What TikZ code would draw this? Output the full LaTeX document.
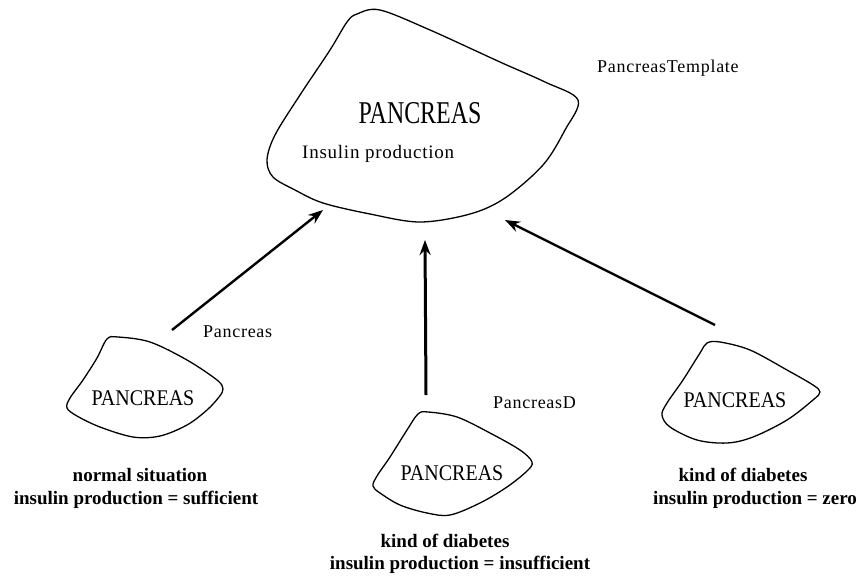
\documentclass[tikz,border=0pt]{standalone}
\usepackage{fontspec}
\usepackage{graphicx}
\setmainfont{Liberation Serif}
\usetikzlibrary{arrows.meta}

\tikzset{
  blob/.style={draw=black, line width=1.3pt, line join=round},
  link/.style={draw=black, line width=2.4pt, -{Stealth[length=15pt,width=11pt,inset=5pt]}},
  label/.style={inner sep=0pt, font=\fontsize{18}{20}\selectfont\addfontfeature{LetterSpace=4}},
  caption/.style={inner sep=0pt, font=\fontsize{19}{21}\selectfont\bfseries},
  title/.style={inner sep=0pt}
}
\newcommand{\bigname}{\scalebox{0.92}[1.22]{\fontsize{26}{28}\selectfont PANCREAS}}
\newcommand{\smallname}{\scalebox{1}[1.12]{\fontsize{20}{22}\selectfont PANCREAS}}

\begin{document}
\begin{tikzpicture}[x=1pt, y=-1pt]
  \useasboundingbox (0,0) rectangle (860,582);

  % template organ (top)
  \draw[blob] plot[smooth cycle, tension=0.55] coordinates {
    (357,14) (380,10) (430,30) (500,62) (545,82) (578,100) (565,130)
    (543,165) (505,198) (470,214) (420,222) (370,214) (323,203) (295,190)
    (273,177) (267,160) (275,135) (300,95) (330,50) (347,22)};
  \node[title, anchor=base] (tplname) at (420,123) {\bigname};
  \node[label, anchor=base west, font=\fontsize{19}{21}\selectfont\addfontfeature{LetterSpace=4}] (tplattr) at (302,158) {Insulin production};
  \node[label, anchor=base west] (tpllabel) at (597,72) {PancreasTemplate};

  % normal organ (left)
  \draw[blob] plot[smooth cycle, tension=0.55] coordinates {
    (107,339) (118,337) (150,342) (187,360) (217,380) (223,389) (219,397)
    (207,410) (187,425) (160,436) (133,437) (100,427) (77,416) (67,408)
    (70,398) (83,380) (97,358)};
  \node[title, anchor=base] (normname) at (143,405) {\smallname};
  \node[label, anchor=base west] (normlabel) at (203,337) {Pancreas};
  \node[caption, anchor=base] (normcap1) at (140,481) {normal situation};
  \node[caption, anchor=base] (normcap2) at (136,504) {insulin production = sufficient};

  % diabetic organ (middle)
  \draw[blob] plot[smooth cycle, tension=0.55] coordinates {
    (418,414) (428,412) (457,417) (490,433) (520,450) (532,462) (527,471)
    (507,487) (480,503) (450,515) (427,513) (400,505) (380,493) (373,486)
    (377,476) (390,457) (407,430)};
  \node[title, anchor=base] (dname) at (452,480) {\smallname};
  \node[label, anchor=base west] (dlabel) at (493,408) {PancreasD};
  \node[caption, anchor=base] (dcap1) at (445,547) {kind of diabetes};
  \node[caption, anchor=base] (dcap2) at (460,569) {insulin production = insufficient};

  % diabetic organ (right)
  \draw[blob] plot[smooth cycle, tension=0.55] coordinates {
    (707,343) (720,342) (750,350) (787,370) (813,385) (820,392) (813,400)
    (787,420) (753,437) (727,443) (697,440) (670,427) (662,415) (667,403)
    (683,380) (700,353)};
  \node[title, anchor=base] (zname) at (735,407) {\smallname};
  \node[caption, anchor=base] (zcap1) at (743,481) {kind of diabetes};
  \node[caption, anchor=base] (zcap2) at (755,504) {insulin production = zero};

  % arrow end points
  \coordinate (normtail) at (172,330);
  \coordinate (normhead) at (323,210);
  \coordinate (dtail) at (426,395);
  \coordinate (dhead) at (425,240);
  \coordinate (ztail) at (715,325);
  \coordinate (zhead) at (505,220);

  \draw[link] (normtail) -- (normhead);
  \draw[link, line width=3pt] (dtail) -- (dhead);
  \draw[link] (ztail) -- (zhead);
\end{tikzpicture}
\end{document}
